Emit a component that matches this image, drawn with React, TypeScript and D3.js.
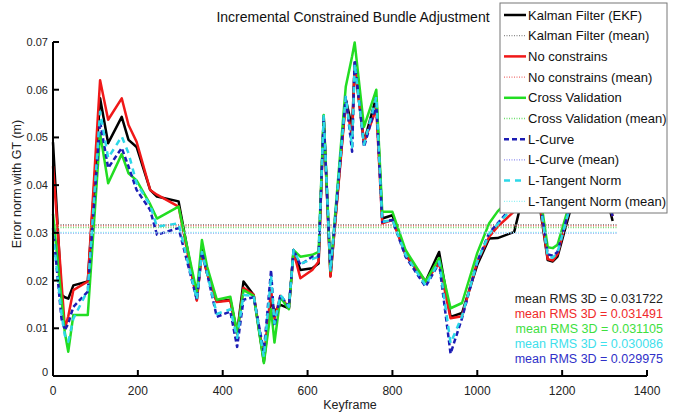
import React from "react";
import * as d3 from "d3";

const keyframes = [0,20,28,36,48,82,111,130,162,178,197,229,245,296,339,351,363,386,418,434,449,473,497,514,522,536,556,567,583,611,626,638,654,690,705,711,733,762,776,800,831,878,910,937,964,1000,1028,1048,1087,1100,1135,1166,1178,1189,1217,1250,1285,1319];

const kalman = [0.049,0.017,0.0165,0.0162,0.019,0.0198,0.0582,0.0488,0.0543,0.0495,0.048,0.039,0.0376,0.0366,0.016,0.0264,0.0216,0.0156,0.016,0.009,0.0198,0.017,0.003,0.016,0.0135,0.0149,0.0142,0.0264,0.0222,0.0226,0.0236,0.0545,0.021,0.058,0.052,0.065,0.049,0.0585,0.033,0.0337,0.0254,0.0198,0.026,0.0124,0.0132,0.0233,0.0288,0.0289,0.0302,0.035,0.043,0.0243,0.024,0.025,0.034,0.042,0.045,0.0325];
const noConstrains = [0.044,0.0197,0.010,0.0125,0.018,0.0198,0.062,0.0537,0.0582,0.0526,0.0491,0.039,0.038,0.0355,0.0158,0.026,0.0215,0.0155,0.0158,0.0088,0.0185,0.017,0.0035,0.018,0.012,0.0168,0.0142,0.026,0.0205,0.0222,0.024,0.054,0.0208,0.0575,0.05,0.0655,0.049,0.056,0.032,0.0327,0.0254,0.0198,0.0237,0.0121,0.0125,0.024,0.0292,0.0313,0.0345,0.037,0.044,0.0245,0.0242,0.0255,0.035,0.043,0.044,0.0335];
const crossValidation = [0.034,0.016,0.009,0.0051,0.0128,0.0128,0.0509,0.0404,0.0465,0.0425,0.041,0.036,0.033,0.0355,0.0175,0.0285,0.023,0.016,0.0166,0.009,0.018,0.0168,0.0027,0.014,0.007,0.0165,0.014,0.0264,0.025,0.0254,0.026,0.0547,0.022,0.0606,0.067,0.0699,0.0522,0.06,0.0344,0.0344,0.0264,0.0198,0.0247,0.0142,0.0153,0.0258,0.032,0.0345,0.038,0.04,0.046,0.027,0.0268,0.0275,0.036,0.044,0.043,0.034];
const lCurve = [0.031,0.012,0.0096,0.011,0.0145,0.0177,0.0533,0.0436,0.0478,0.0439,0.039,0.0348,0.0296,0.031,0.016,0.026,0.0216,0.0124,0.0135,0.0061,0.016,0.0165,0.0051,0.0222,0.0105,0.017,0.0145,0.0264,0.0233,0.025,0.025,0.054,0.022,0.0585,0.047,0.0662,0.048,0.057,0.0323,0.0327,0.025,0.0187,0.0237,0.0047,0.0121,0.024,0.030,0.032,0.036,0.038,0.045,0.0255,0.0252,0.026,0.035,0.043,0.044,0.0335];
const lTangent = [0.030,0.013,0.0085,0.0072,0.012,0.018,0.0554,0.0457,0.0502,0.0467,0.0404,0.0358,0.0313,0.032,0.016,0.026,0.0216,0.013,0.014,0.008,0.017,0.0168,0.004,0.021,0.011,0.017,0.0145,0.0264,0.0235,0.0245,0.025,0.0545,0.022,0.0585,0.048,0.0655,0.0485,0.0585,0.0323,0.0327,0.0254,0.019,0.024,0.0069,0.0125,0.024,0.0298,0.0318,0.0355,0.038,0.045,0.025,0.0248,0.0258,0.035,0.043,0.044,0.0335];

const seriesNames = ["Kalman Filter (EKF)", "No constrains", "Cross Validation", "L-Curve", "L-Tangent Norm"];
const meanNames = ["Kalman Filter  (mean)", "No constrains (mean)", "Cross Validation (mean)", "L-Curve (mean)", "L-Tangent Norm (mean)"];
const meanValues = [0.031722, 0.031491, 0.031105, 0.029975, 0.030086];
const meanRange = [0, 1330];
const xTicks = [0, 200, 400, 600, 800, 1000, 1200, 1400];
const yTicks = [0, 0.01, 0.02, 0.03, 0.04, 0.05, 0.06, 0.07];
const rmsOrder = [0, 1, 2, 4, 3];

const seriesValues = [kalman, noConstrains, crossValidation, lCurve, lTangent];
const colors = ["#000000", "#f01818", "#22dd22", "#1c1cb4", "#2cd8e8"];
const meanColors = ["#8a8a8a", "#f07070", "#70e070", "#8c8cf0", "#8ef0f4"];
const rmsColors = ["#222222", "#f02a2a", "#3ee03e", "#40e0ec", "#3030c8"];
const dashes = [undefined, undefined, undefined, "5 3", "6 5"];

const FONT = "'Liberation Sans', Arial, Helvetica, sans-serif";

export default function App() {
  const W = 676, H = 413;
  const x = d3.scaleLinear().domain([0, 1400]).range([53, 647]);
  const y = d3.scaleLinear().domain([0, 0.07]).range([376, 42]);
  const line = d3.line<[number, number]>().x(d => x(d[0])).y(d => y(d[1]));

  const legendX = 500, legendY = 3, legendW = 167, legendH = 210, rowH = 20.7;
  const legendEntries: { name: string; color: string; width: number; dash?: string }[] = [];
  seriesNames.forEach((n, i) => {
    legendEntries.push({ name: n, color: colors[i], width: 2.5, dash: dashes[i] });
    legendEntries.push({ name: meanNames[i], color: meanColors[i], width: 1.3, dash: "1 1.5" });
  });

  return (
    <svg width={W} height={H} style={{ position: "absolute", left: 0, top: 0, background: "#fff", fontFamily: FONT }}>
      <rect x={0} y={0} width={W} height={H} fill="#fff" />
      <text x={353} y={22} textAnchor="middle" fontSize={14} fill="#111">Incremental Constrained Bundle Adjustment</text>

      {seriesValues.map((vals, i) => (
        <g key={i}>
          <path d={line(keyframes.map((k, j) => [k, vals[j]]))!} fill="none" stroke={colors[i]} strokeWidth={2.5}
            strokeDasharray={dashes[i]} strokeLinejoin="round" />
          <line x1={x(meanRange[0])} x2={x(meanRange[1])} y1={y(meanValues[i])} y2={y(meanValues[i])}
            stroke={meanColors[i]} strokeWidth={1.5} strokeDasharray="1 1.5" />
        </g>
      ))}

      {/* axes */}
      <line x1={x(0)} x2={x(1400)} y1={y(0)} y2={y(0)} stroke="#000" strokeWidth={2} />
      <line x1={x(0)} x2={x(0)} y1={y(0)} y2={y(0.07)} stroke="#000" strokeWidth={2} />
      {xTicks.map(t => (
        <g key={t}>
          <line x1={x(t)} x2={x(t)} y1={y(0)} y2={y(0) - 6} stroke="#000" strokeWidth={2} />
          <text x={x(t)} y={395} textAnchor="middle" fontSize={12} fill="#222">{t}</text>
        </g>
      ))}
      {yTicks.map(t => (
        <g key={t}>
          <line x1={x(0)} x2={x(0) + 6} y1={y(t)} y2={y(t)} stroke="#000" strokeWidth={2} />
          <text x={48} y={y(t) + (t === 0 ? 0 : 4)} textAnchor="end" fontSize={11} fill="#222">{t === 0 ? "0" : t.toFixed(2)}</text>
        </g>
      ))}
      <text x={350} y={409} textAnchor="middle" fontSize={12.5} fill="#222">Keyframe</text>
      <text transform="translate(21,184) rotate(-90)" textAnchor="middle" fontSize={12.5} fill="#222">Error norm with GT (m)</text>

      {/* legend */}
      <rect x={legendX} y={legendY} width={legendW} height={legendH} fill="#fff" stroke="#777" strokeWidth={1} />
      {legendEntries.map((e, i) => {
        const cy = legendY + 12 + i * rowH;
        return (
          <g key={i}>
            <line x1={legendX + 4} x2={legendX + 26} y1={cy} y2={cy} stroke={e.color} strokeWidth={e.width} strokeDasharray={e.dash} />
            <text x={legendX + 28} y={cy + 4.5} fontSize={13} fill="#111">{e.name}</text>
          </g>
        );
      })}

      {/* mean RMS texts */}
      {rmsOrder.map((si, i) => (
        <text key={si} x={663} y={302.5 + i * 15.2} textAnchor="end" fontSize={12.5} fill={rmsColors[i]}>
          {"mean RMS 3D = " + meanValues[si].toFixed(6)}
        </text>
      ))}
    </svg>
  );
}
